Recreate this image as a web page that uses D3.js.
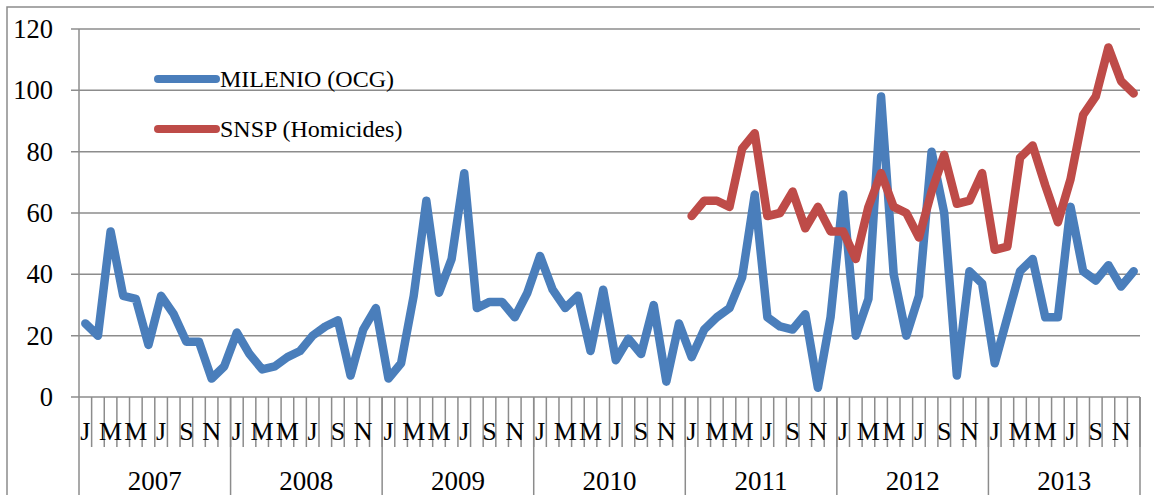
<!DOCTYPE html>
<html>
  <head>
    <meta charset="utf-8">
    <title>MILENIO vs SNSP</title>
    <style>
      body { margin: 0; background: white; }
      text { font-family: "Liberation Serif", "Times New Roman", serif; fill: black; }
      .grid line, .frame, .tick-marks line { stroke: #8c8c8c; stroke-width: 1.5; fill: none; }
      .series { fill: none; stroke-width: 8.5; stroke-linejoin: round; stroke-linecap: round; }
    </style>
  </head>
  <body>
    <svg width="1154" height="495"></svg>
    <script src="https://d3js.org/d3.v7.min.js"></script>
    <script type="application/javascript">
      const years = ['2007', '2008', '2009', '2010', '2011', '2012', '2013'];
      const monthLabels = ['J', '', 'M', '', 'M', '', 'J', '', 'S', '', 'N', ''];
      const yTicks = [0, 20, 40, 60, 80, 100, 120];

      // monthly values, Jan 2007 - Dec 2013
      const milenio = [
        24, 20, 54, 33, 32, 17, 33, 27, 18, 18, 6, 10,
        21, 14, 9, 10, 13, 15, 20, 23, 25, 7, 22, 29,
        6, 11, 33, 64, 34, 45, 73, 29, 31, 31, 26, 34,
        46, 35, 29, 33, 15, 35, 12, 19, 14, 30, 5, 24,
        13, 22, 26, 29, 39, 66, 26, 23, 22, 27, 3, 26,
        66, 20, 32, 98, 40, 20, 33, 80, 60, 7, 41, 37,
        11, 26, 41, 45, 26, 26, 62, 41, 38, 43, 36, 41
      ];
      // SNSP starts in Jan 2011
      const snsp = [
        59, 64, 64, 62, 81, 86, 59, 60, 67, 55, 62, 54,
        54, 45, 62, 73, 62, 60, 52, 67, 79, 63, 64, 73,
        48, 49, 78, 82, 69, 57, 71, 92, 98, 114, 103, 99
      ];
      const snspStart = 48;

      const series = [
        {name: 'MILENIO (OCG)', color: '#4a7ebb', values: milenio.map((v, i) => ({i, v}))},
        {name: 'SNSP (Homicides)', color: '#be4b48', values: snsp.map((v, i) => ({i: i + snspStart, v}))}
      ];

      const svg = d3.select('svg');
      const width = +svg.attr('width');
      const height = +svg.attr('height');
      const plotLeft = 79, plotRight = 1140, plotTop = 29, plotBottom = 397;

      const months = d3.range(years.length * 12);
      const x = d3.scaleBand().domain(months).range([plotLeft, plotRight]).padding(0);
      const xYear = d3.scaleBand().domain(years).range([plotLeft, plotRight]).padding(0);
      const y = d3.scaleLinear().domain([0, 120]).range([plotBottom, plotTop]);

      // outer frame
      svg.append('path')
        .attr('class', 'frame')
        .attr('d', `M7,${height + 5}V7H${width + 5}`);

      // gridlines + y ticks
      const grid = svg.append('g').attr('class', 'grid');
      grid.selectAll('line')
        .data(yTicks)
        .enter()
          .append('line')
          .attr('x1', plotLeft - 8)
          .attr('x2', plotRight)
          .attr('y1', d => y(d))
          .attr('y2', d => y(d));

      svg.append('g')
        .selectAll('text')
        .data(yTicks)
        .enter()
          .append('text')
          .attr('x', 53)
          .attr('y', d => y(d) + 9)
          .attr('text-anchor', 'end')
          .style('font-size', '26.5px')
          .text(d => d);

      // category tick marks
      const ticks = svg.append('g').attr('class', 'tick-marks');
      ticks.append('line')
        .attr('x1', plotLeft).attr('x2', plotLeft)
        .attr('y1', plotTop).attr('y2', plotBottom);
      ticks.selectAll('.m')
        .data(months)
        .enter()
          .append('line')
          .attr('class', 'm')
          .attr('x1', d => x(d) + x.bandwidth())
          .attr('x2', d => x(d) + x.bandwidth())
          .attr('y1', plotBottom)
          .attr('y2', 447);
      ticks.selectAll('.yr')
        .data(d3.range(years.length + 1))
        .enter()
          .append('line')
          .attr('class', 'yr')
          .attr('x1', d => plotLeft + d * xYear.bandwidth())
          .attr('x2', d => plotLeft + d * xYear.bandwidth())
          .attr('y1', plotBottom)
          .attr('y2', height);

      svg.append('g')
        .selectAll('text')
        .data(months.filter(m => monthLabels[m % 12]))
        .enter()
          .append('text')
          .attr('x', d => x(d) + x.bandwidth() / 2)
          .attr('y', 440)
          .attr('text-anchor', 'middle')
          .style('font-size', '26px')
          .text(d => monthLabels[d % 12]);

      svg.append('g')
        .selectAll('text')
        .data(years)
        .enter()
          .append('text')
          .attr('x', d => xYear(d) + xYear.bandwidth() / 2)
          .attr('y', 490)
          .attr('text-anchor', 'middle')
          .style('font-size', '27px')
          .text(d => d);

      // series lines
      const line = d3.line()
        .x(d => x(d.i) + x.bandwidth() / 2)
        .y(d => y(d.v));

      svg.append('g')
        .selectAll('path')
        .data(series)
        .enter()
          .append('path')
          .attr('class', 'series')
          .attr('stroke', d => d.color)
          .attr('d', d => line(d.values));

      // legend
      const legend = svg.append('g')
        .selectAll('g')
        .data(series)
        .enter()
          .append('g')
          .attr('transform', (d, i) => `translate(158,${79 + i * 50})`);
      legend.append('line')
        .attr('x1', 0).attr('x2', 58)
        .attr('stroke', d => d.color)
        .attr('stroke-width', 8)
        .attr('stroke-linecap', 'round');
      legend.append('text')
        .attr('x', 62)
        .attr('y', 8)
        .style('font-size', '24px')
        .text(d => d.name);
    </script>
  </body>
</html>
